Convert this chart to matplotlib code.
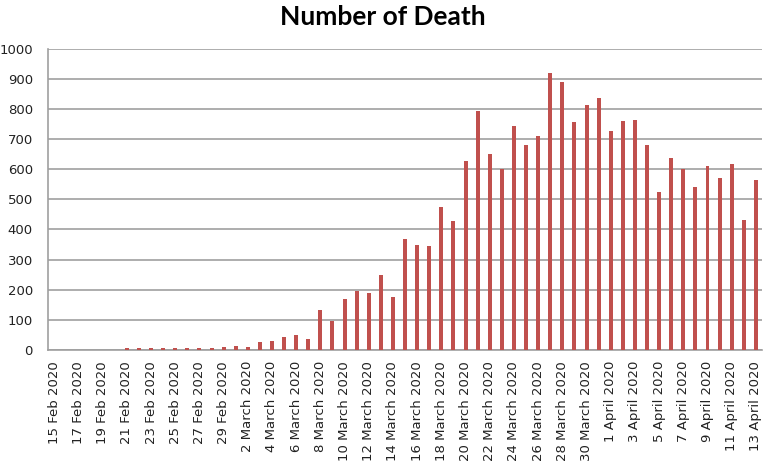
import numpy as np
import matplotlib.pyplot as plt

# daily deaths, 15 Feb 2020 .. 13 April 2020
feb_days = list(range(15, 30))
march_days = list(range(1, 32))
april_days = list(range(1, 14))

feb_deaths = [0, 0, 0, 0, 0, 0, 5, 5, 5, 5, 5, 5, 5, 5, 10]
march_deaths = [13, 10, 27, 30, 43, 51, 36, 134, 97, 168, 197, 189, 250, 176,
                370, 350, 346, 475, 428, 627, 793, 652, 601, 743, 682, 711,
                919, 890, 756, 812, 838]
april_deaths = [727, 760, 764, 681, 524, 636, 601, 540, 610, 570, 619, 432, 565]

labels = ([f'{d} Feb 2020' for d in feb_days]
          + [f'{d} March 2020' for d in march_days]
          + [f'{d} April 2020' for d in april_days])
deaths = np.array(feb_deaths + march_deaths + april_deaths)

fig = plt.figure(figsize=(7.65, 4.61), dpi=100)
ax = fig.add_axes([0.063, 0.241, 0.933, 0.653])

x = np.arange(len(deaths))
ax.bar(x, deaths, width=0.33, color='#C0504D', zorder=3)

ax.set_xlim(-0.5, len(deaths) - 0.5)
ax.set_ylim(0, 1000)
ax.set_yticks(np.arange(0, 1001, 100))
ax.yaxis.grid(True, color='#9f9f9f', linewidth=1.2, zorder=0)

ax.set_xticks(x[::2])
ax.set_xticklabels(labels[::2], rotation=90, va='top', ha='center')

ax.tick_params(axis='both', length=0, labelsize=9.5, colors='#222222')
ax.tick_params(axis='y', pad=11)
ax.tick_params(axis='x', pad=8)

for side in ['top', 'right']:
    ax.spines[side].set_visible(False)
for side in ['left', 'bottom']:
    ax.spines[side].set_color('#9f9f9f')
    ax.spines[side].set_linewidth(1.2)

fig.text(0.5, 0.963, 'Number of Death', ha='center', va='center',
         fontsize=19, fontweight='bold', family='Lato')

fig.savefig('out.png', dpi=100)
